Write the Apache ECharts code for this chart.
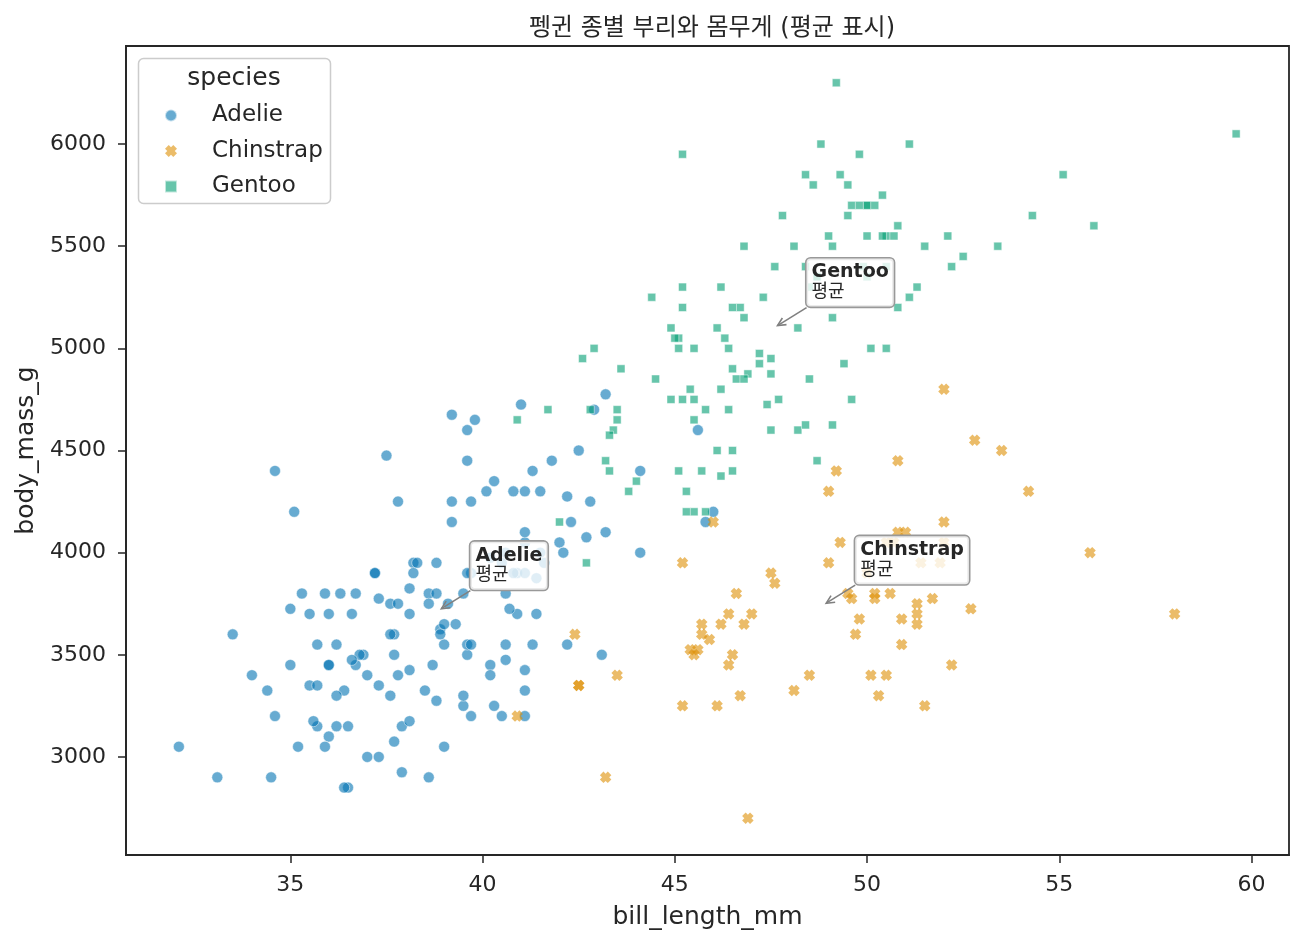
<!DOCTYPE html>
<html>
<head>
<meta charset="utf-8">
<script src="https://cdn.jsdelivr.net/npm/echarts@6/dist/echarts.min.js"></script>
<style>
html,body{margin:0;padding:0;background:#fff;}
#chart{width:1303px;height:946px;}
</style>
</head>
<body>
<div id="chart"></div>
<script>
// ---- DATA (bill_length_mm, body_mass_g) ----
const adelie = [[39.1,3750],[39.5,3800],[40.3,3250],[36.7,3450],[39.3,3650],[38.9,3625],[39.2,4675],[41.1,3200],[38.6,3800],[34.6,4400],
[36.6,3700],[38.7,3450],[42.5,4500],[34.4,3325],[46.0,4200],[37.8,3400],[37.7,3600],[35.9,3800],[38.2,3950],[38.8,3800],
[35.3,3800],[40.6,3550],[40.5,3200],[37.9,3150],[40.5,3950],[39.5,3250],[37.2,3900],[39.5,3300],[40.9,3900],[36.4,3325],
[39.2,4150],[38.8,3950],[42.2,3550],[37.6,3300],[39.8,4650],[36.5,3150],[40.8,3900],[36.0,3100],[44.1,4400],[37.0,3000],
[39.6,4600],[41.1,3425],[36.0,3450],[42.3,4150],[39.6,3500],[40.1,4300],[35.0,3450],[42.0,4050],[34.5,2900],[41.4,3700],
[39.0,3550],[40.6,3800],[36.5,2850],[37.6,3750],[35.7,3150],[41.3,4400],[37.6,3600],[41.1,4050],[36.4,2850],[41.6,3950],
[35.5,3350],[41.1,4100],[35.9,3050],[41.8,4450],[33.5,3600],[39.7,3900],[39.6,3550],[45.8,4150],[35.5,3700],[42.8,4250],
[40.9,3700],[37.2,3900],[36.2,3550],[42.1,4000],[34.6,3200],[42.9,4700],[36.7,3800],[35.1,4200],[37.3,3350],[41.3,3550],
[36.3,3800],[36.9,3500],[38.3,3950],[38.9,3600],[35.7,3550],[41.1,4300],[34.0,3400],[39.6,4450],[36.2,3300],[40.8,4300],
[38.1,3700],[40.3,4350],[33.1,2900],[43.2,4100],[35.0,3725],[41.0,4725],[37.7,3075],[37.8,4250],[37.9,2925],[39.7,3550],
[38.6,3750],[38.2,3900],[38.1,3175],[43.2,4775],[38.1,3825],[45.6,4600],[39.7,3200],[42.2,4275],[39.6,3900],[42.7,4075],
[38.6,2900],[37.3,3775],[35.7,3350],[41.1,3325],[36.2,3150],[37.7,3500],[40.2,3450],[41.4,3875],[35.2,3050],[40.6,4000],
[38.8,3275],[41.5,4300],[39.0,3050],[44.1,4000],[38.5,3325],[43.1,3500],[36.8,3500],[37.5,4475],[38.1,3425],[41.1,3900],
[35.6,3175],[40.2,3975],[37.0,3400],[39.7,4250],[40.2,3400],[40.6,3475],[32.1,3050],[40.7,3725],[37.3,3000],[39.0,3650],
[39.2,4250],[36.6,3475],[36.0,3450],[37.8,3750],[36.0,3700],[41.5,4000]];

const chinstrap = [[46.5,3500],[50.0,3900],[51.3,3650],[45.4,3525],[52.7,3725],[45.2,3950],[46.1,3250],[51.3,3750],[46.0,4150],[51.3,3700],
[46.6,3800],[51.7,3775],[47.0,3700],[52.0,4050],[45.9,3575],[50.5,4050],[50.3,3300],[58.0,3700],[46.4,3450],[49.2,4400],
[42.4,3600],[48.5,3400],[43.2,2900],[50.6,3800],[46.7,3300],[52.0,4150],[50.5,3400],[49.5,3800],[46.4,3700],[52.8,4550],
[40.9,3200],[54.2,4300],[42.5,3350],[51.0,4100],[49.7,3600],[47.5,3900],[47.6,3850],[52.0,4800],[46.9,2700],[53.5,4500],
[49.0,3950],[46.2,3650],[50.9,3550],[45.5,3500],[50.9,3675],[50.8,4450],[50.1,3400],[49.0,4300],[51.5,3250],[49.8,3675],
[48.1,3325],[51.4,3950],[45.7,3600],[50.7,4050],[42.5,3350],[52.2,3450],[45.2,3250],[49.3,4050],[50.2,3800],[45.6,3525],
[51.9,3950],[46.8,3650],[45.7,3650],[55.8,4000],[43.5,3400],[49.6,3775],[50.8,4100],[50.2,3775]];

const gentoo = [[46.1,4500],[50.0,5700],[48.7,4450],[50.0,5700],[47.6,5400],[46.5,4500],[45.4,4800],[46.7,5200],[43.3,4400],[46.8,5150],
[40.9,4650],[49.0,5550],[45.5,4650],[48.4,5850],[45.8,4200],[49.3,5850],[42.0,4150],[49.2,6300],[46.2,4800],[48.7,5350],
[50.2,5700],[45.1,5000],[46.5,4400],[46.3,5050],[42.9,5000],[46.1,5100],[47.8,5650],[48.2,4600],[50.0,5550],[47.3,5250],
[42.8,4700],[45.1,5050],[59.6,6050],[49.1,5150],[48.4,5400],[42.6,4950],[44.4,5250],[44.0,4350],[48.7,5350],[42.7,3950],
[49.6,5700],[45.3,4300],[49.6,4750],[50.5,5550],[43.6,4900],[45.5,4200],[50.5,5400],[44.9,5100],[45.2,5300],[46.6,4850],
[48.5,5300],[45.1,4400],[50.1,5000],[46.5,4900],[45.0,5050],[43.8,4300],[45.5,5000],[43.2,4450],[50.4,5550],[45.3,4200],
[46.2,5300],[45.7,4400],[54.3,5650],[45.8,4700],[49.8,5700],[49.5,5800],[43.5,4700],[50.7,5550],[47.7,4750],[46.4,5000],
[48.2,5100],[46.5,5200],[46.4,4700],[48.6,5800],[47.5,4600],[51.1,6000],[45.2,4750],[45.2,5950],[49.1,4625],[52.5,5450],
[47.4,4725],[50.0,5350],[44.9,4750],[50.8,5600],[43.4,4600],[51.3,5300],[47.5,4875],[52.1,5550],[47.5,4950],[52.2,5400],
[45.5,4750],[49.5,5650],[44.5,4850],[50.8,5200],[49.4,4925],[46.9,4875],[48.4,4625],[51.1,5250],[48.5,4850],[55.9,5600],
[47.2,4975],[49.1,5500],[46.8,5500],[41.7,4700],[53.4,5500],[43.3,4575],[48.1,5500],[50.5,5000],[49.8,5950],[43.5,4650],
[51.5,5500],[46.2,4375],[55.1,5850],[48.8,6000],[47.2,4925],[46.8,4850],[50.4,5750],[45.2,5200],[49.9,5400]];

const speciesNames = ['Adelie', 'Chinstrap', 'Gentoo'];
const xTicks = [35, 40, 45, 50, 55, 60];
const yTicks = [3000, 3500, 4000, 4500, 5000, 5500, 6000];
const titleText = '펭귄 종별 부리와 몸무게 (평균 표시)';
const centerLabel = '평균';

// ---- STYLE ----
const colors = ['#0173b2', '#de8f05', '#029e73'];
const a = 3.1;
const xPath = 'path://M0,' + a + ' L' + a + ',0 L5,' + (5 - a) + ' L' + (10 - a) + ',0 L10,' + a + ' L' + (5 + a) + ',5 L10,' + (10 - a) +
  ' L' + (10 - a) + ',10 L5,' + (5 + a) + ' L' + a + ',10 L0,' + (10 - a) + ' L' + (5 - a) + ',5 Z';
const symbols = ['circle', xPath, 'rect'];
const sizes = [11, 11.5, 8];
const dark = '#262626';
const font = "'DejaVu Sans', 'Noto Sans CJK KR', sans-serif";

const allData = [adelie, chinstrap, gentoo];
const allX = allData.flat().map(d => d[0]);
const allY = allData.flat().map(d => d[1]);
const xmin = Math.min(...allX), xmax = Math.max(...allX);
const ymin = Math.min(...allY), ymax = Math.max(...allY);
const xpad = (xmax - xmin) * 0.05, ypad = (ymax - ymin) * 0.05;

const chart = echarts.init(document.getElementById('chart'), null, {renderer: 'canvas'});

const series = speciesNames.map((name, i) => ({
  name: name,
  type: 'scatter',
  data: allData[i],
  symbol: symbols[i],
  symbolSize: sizes[i],
  itemStyle: {color: colors[i], opacity: 0.6, borderColor: '#ffffff', borderWidth: i === 1 ? 0 : 0.8},
  emphasis: {disabled: true},
  z: 2
}));

chart.setOption({
  animation: false,
  backgroundColor: '#ffffff',
  title: {
    text: titleText, left: 707, top: 12, textAlign: 'center',
    textStyle: {fontFamily: font, fontSize: 24, fontWeight: 'normal', color: dark}
  },
  grid: {left: 126, right: 14, top: 46, bottom: 91, show: true, borderColor: dark, borderWidth: 1.8, containLabel: false},
  legend: {
    orient: 'vertical', left: 159, top: 99,
    itemWidth: 12, itemHeight: 12, itemGap: 12.5,
    data: speciesNames,
    textStyle: {fontFamily: font, fontSize: 23, color: dark, lineHeight: 22, padding: [0, 0, 0, 30]},
    selectedMode: false,
    z: 6
  },
  xAxis: {
    type: 'value', min: xmin - xpad, max: xmax + xpad,
    name: 'bill_length_mm', nameLocation: 'middle', nameGap: 50,
    nameTextStyle: {fontFamily: font, fontSize: 25, color: dark},
    axisLine: {show: true, lineStyle: {color: dark, width: 1.8}},
    axisTick: {show: true, length: 8, customValues: xTicks, lineStyle: {color: dark, width: 1.5}},
    axisLabel: {customValues: xTicks, fontFamily: font, fontSize: 22, color: dark, margin: 19, formatter: v => String(v)},
    splitLine: {show: false}
  },
  yAxis: {
    type: 'value', min: ymin - ypad, max: ymax + ypad,
    name: 'body_mass_g', nameLocation: 'middle', nameGap: 85,
    nameTextStyle: {fontFamily: font, fontSize: 25, color: dark},
    axisLine: {show: true, lineStyle: {color: dark, width: 1.8}},
    axisTick: {show: true, length: 8, customValues: yTicks, lineStyle: {color: dark, width: 1.5}},
    axisLabel: {customValues: yTicks, fontFamily: font, fontSize: 22, color: dark, margin: 20, formatter: v => String(v)},
    splitLine: {show: false}
  },
  series: series
});

// ---- annotations (centroids) and legend frame ----
function mean(arr, k) { return arr.reduce((s, d) => s + d[k], 0) / arr.length; }
const graphics = [];
graphics.push({
  type: 'rect', shape: {x: 138.5, y: 58.5, width: 192, height: 145, r: 5},
  style: {fill: 'rgba(255,255,255,0.85)', stroke: '#cccccc', lineWidth: 1.5}, z: 3
});
graphics.push({
  type: 'text', x: 234, y: 78,
  style: {text: 'species', fontFamily: font, fontSize: 25, fill: dark, textAlign: 'center', textVerticalAlign: 'middle'}, z: 6
});
speciesNames.forEach((name, i) => {
  const c = [mean(allData[i], 0), mean(allData[i], 1)];
  const p = chart.convertToPixel({gridIndex: 0}, c);
  const sx = p[0] + 33, sy = p[1] - 22;
  const ex = p[0] + 4, ey = p[1] - 4;
  const ang = Math.atan2(ey - sy, ex - sx);
  const hl = 9, ha = 0.45;
  graphics.push({type: 'line', shape: {x1: sx, y1: sy, x2: ex, y2: ey}, style: {stroke: '#808080', lineWidth: 1.6}, z: 20});
  graphics.push({type: 'polyline', shape: {points: [
    [ex - hl * Math.cos(ang - ha), ey - hl * Math.sin(ang - ha)], [ex, ey],
    [ex - hl * Math.cos(ang + ha), ey - hl * Math.sin(ang + ha)]]},
    style: {stroke: '#808080', lineWidth: 1.6, fill: null}, z: 20});
  graphics.push({
    type: 'text', x: p[0] + 33, y: p[1] - 71, z: 21,
    style: {
      text: '{b|' + name + '}\n{n|' + centerLabel + '}',
      rich: {
        b: {fontFamily: font, fontSize: 19, fontWeight: 'bold', fill: dark, lineHeight: 20},
        n: {fontFamily: font, fontSize: 18, fill: dark, lineHeight: 20}
      },
      backgroundColor: 'rgba(255,255,255,0.8)', borderColor: '#999999', borderWidth: 1.6, borderRadius: 4,
      padding: [4, 5, 4, 5]
    }
  });
});
chart.setOption({graphic: graphics});
</script>
</body>
</html>
